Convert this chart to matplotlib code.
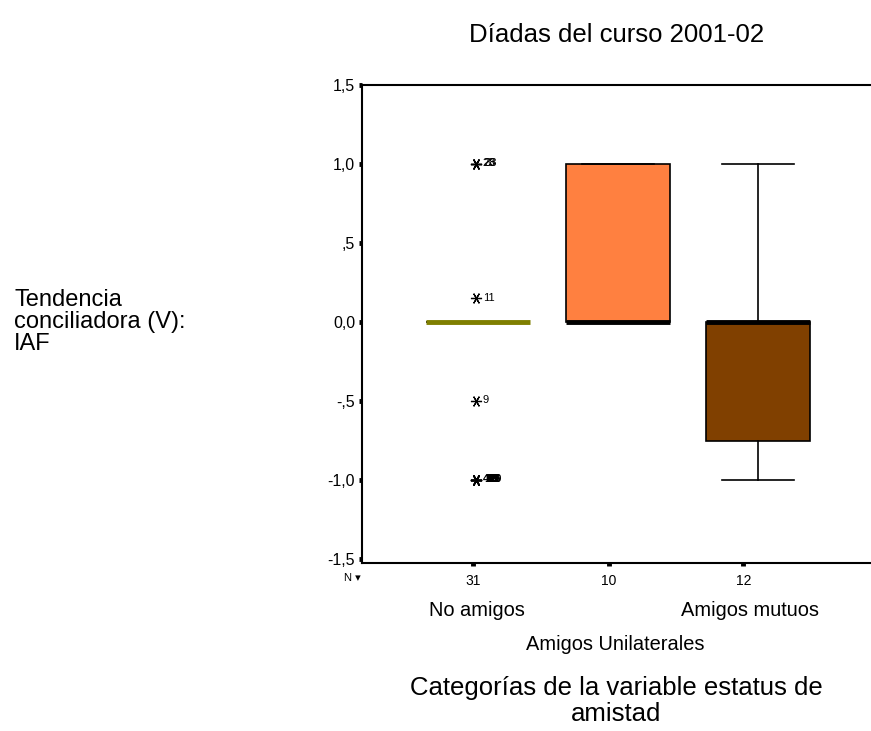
import numpy as np
import matplotlib
matplotlib.use('Agg')
import matplotlib.pyplot as plt
from matplotlib.transforms import blended_transform_factory

plt.rcParams['font.family'] = ['Liberation Sans', 'DejaVu Sans']

# Resumen de las cajas (IAF) por categoría de amistad
categorias = ['No amigos', 'Amigos Unilaterales', 'Amigos mutuos']
n_casos = ['31', '10', '12']
q1 = [0.0, 0.0, -0.75]
mediana = [0.0, 0.0, 0.0]
q3 = [0.0, 1.0, 0.0]
bigote_inf = [0.0, 0.0, -1.0]
bigote_sup = [0.0, 1.0, 1.0]
colores = ['#7f7f00', '#ff8040', '#804000']

# Valores extremos del grupo "No amigos" con su número de caso
extremos_valor = [1.0, 1.0, 1.0, 0.15, -0.5,
                  -1.0, -1.0, -1.0, -1.0, -1.0, -1.0, -1.0, -1.0]
extremos_caso = ['23', '28', '33', '11', '9',
                 '4', '12', '15', '18', '19', '22', '26', '29']

W, H = 871, 731
fig = plt.figure(figsize=(W / 100, H / 100), dpi=100)
ax = fig.add_axes([362 / W, 1 - 563 / H, (W - 362) / W, (563 - 85) / H])


def px(x, y):
    return x / W, 1 - y / H


pos = np.arange(1, len(categorias) + 1)
stats = []
for i in range(len(categorias)):
    stats.append(dict(med=mediana[i], q1=q1[i], q3=q3[i],
                      whislo=bigote_inf[i], whishi=bigote_sup[i], fliers=[]))

bp = ax.bxp(stats, positions=pos, widths=0.74, patch_artist=True,
            showfliers=False,
            boxprops=dict(edgecolor='black', linewidth=1.2),
            medianprops=dict(color='black', linewidth=3.5, solid_capstyle='butt'),
            whiskerprops=dict(color='black', linewidth=1.2),
            capprops=dict(color='black', linewidth=1.2),
            capwidths=0.52)
for caja, c in zip(bp['boxes'], colores):
    caja.set_facecolor(c)
bp['medians'][0].set_color(colores[0])

# extremos marcados con asterisco y etiqueta del caso
x_ext = pos[0] - 0.015
ax.plot(np.full(len(extremos_valor), x_ext), extremos_valor, linestyle='none',
        marker=(6, 2, 90), markersize=8, color='black', markeredgewidth=0.9)
vistos = {}
for v, caso in zip(extremos_valor, extremos_caso):
    k = vistos.get(v, 0)
    vistos[v] = k + 1
    ax.annotate(caso, (x_ext, v), xytext=(5 + 0.7 * k, 0.5),
                textcoords='offset points', fontsize=8, va='center',
                ha='left', fontweight='bold' if v == -1.0 else 'normal')

ax.set_xlim(0.171, 3.807)
ax.set_ylim(-1.525, 1.5)
ax.set_yticks([1.5, 1.0, 0.5, 0.0, -0.5, -1.0, -1.5])
ax.set_yticklabels(['1,5', '1,0', ',5', '0,0', '-,5', '-1,0', '-1,5'])
ax.set_xticks(pos - np.array([0.035, 0.065, 0.105]))
ax.set_xticklabels(n_casos)
ax.tick_params(axis='both', direction='out', length=2, width=3.5, pad=3)
ax.tick_params(axis='y', labelsize=11.5)
ax.tick_params(axis='x', labelsize=10, pad=6)
for lado in ['left', 'top', 'bottom']:
    ax.spines[lado].set_linewidth(1.5)
ax.spines['right'].set_visible(False)

fig.text(*px(352, 578), 'N \u25be', fontsize=8, ha='center', va='center')

# nombres de categoría escalonados
mezcla = blended_transform_factory(ax.transData, fig.transFigure)
for i, (nombre, y) in enumerate(zip(categorias, [610, 645, 610])):
    ax.text(pos[i] - [0.01, 0.02, 0.06][i], 1 - y / H, nombre,
            transform=mezcla, fontsize=14.4, ha='center', va='center')

fig.text(*px(617, 35), 'Díadas del curso 2001-02', fontsize=18.5,
         ha='center', va='center')
fig.text(*px(616, 701), 'Categorías de la variable estatus de\namistad',
         fontsize=18.5, ha='center', va='center', linespacing=1.15)
fig.text(*px(14, 322), 'Tendencia\nconciliadora (V):\nIAF', fontsize=17,
         ha='left', va='center', linespacing=1.0)

fig.savefig('out.png', dpi=100)
